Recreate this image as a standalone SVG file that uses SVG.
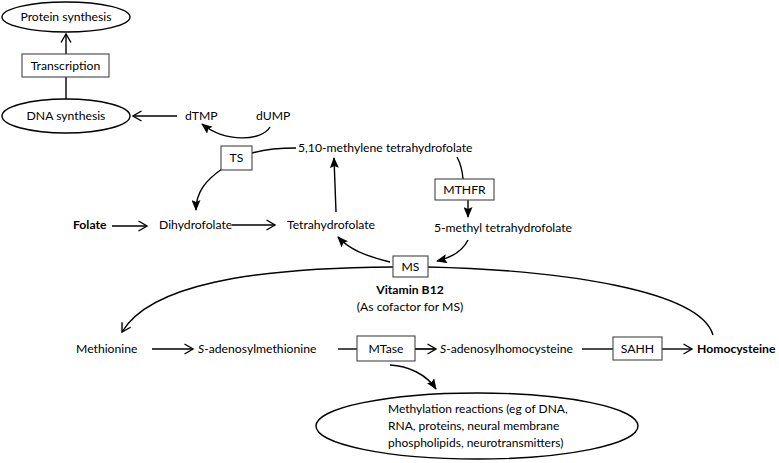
<svg xmlns="http://www.w3.org/2000/svg" width="779" height="463" viewBox="0 0 779 463">
<style>
text{font-family:Lato,"Liberation Sans",sans-serif;font-size:12.2px;fill:#000}
.b{font-weight:bold}
.m{text-anchor:middle}
.box{fill:#fff;stroke:#444;stroke-width:1.1}
.ell{fill:#fff;stroke:#000;stroke-width:1.4}
.c{fill:none;stroke:#000;stroke-width:1.4}
.o{marker-end:url(#oa)}
.f{marker-end:url(#fa)}
</style>
<defs>
<marker id="oa" viewBox="-1 -1 11 12" refX="8.5" refY="5" markerWidth="11" markerHeight="12" orient="auto" markerUnits="userSpaceOnUse">
<path d="M0,0 L8.5,5 L0,10" fill="none" stroke="#000" stroke-width="1.4"/>
</marker>
<marker id="fa" viewBox="0 0 11 9" refX="10" refY="4.5" markerWidth="11" markerHeight="9" orient="auto" markerUnits="userSpaceOnUse">
<path d="M0,0 L11,4.5 L0,9 L2,4.5 z" fill="#000"/>
</marker>
</defs>
<rect width="779" height="463" fill="#fff"/>
<g id="connectors">
<path class="c o" d="M66,54 L66,34"/>
<path class="c" d="M66,77 L66,99"/>
<path class="c o" d="M177,116 L133,116"/>
<path class="c f" d="M270,127 C262,141 226,143 202,124"/>
<path class="c" d="M252,153 Q270,148 296,148"/>
<path class="c f" d="M222,169 C206,180 196,192 196,210"/>
<path class="c o" d="M112,226 L147,226"/>
<path class="c o" d="M232,225 L275,225" style="stroke-width:1.7"/>
<path class="c f" d="M336,212 L334,158"/>
<path class="c" d="M457,157 Q462,166 463,179"/>
<path class="c f" d="M468,200 L468,217"/>
<path class="c f" d="M468,240 C462,252 450,258 437,261"/>
<path class="c f" d="M390,262 C366,256 350,250 338,237"/>
<path class="c o" d="M393,267 C250,268 150,285 122,332"/>
<path class="c" d="M428,267 C560,270 700,290 713,335"/>
<path class="c o" d="M152,349 L193,349"/>
<path class="c" d="M338,349 L357,349"/>
<path class="c o" d="M415,349 L436,349" style="stroke-width:1.7"/>
<path class="c" d="M582,349 L613,349"/>
<path class="c o" d="M662,349 L692,349"/>
<path class="c f" d="M390,365 C408,366 426,374 436,389"/>
</g>
<g id="protein-synthesis"><ellipse class="ell" cx="66" cy="17" rx="64" ry="15"/><text class="m" x="66" y="21">Protein synthesis</text></g>
<g id="transcription"><rect class="box" x="22" y="54" width="87" height="23"/><text class="m" x="65.5" y="70">Transcription</text></g>
<g id="dna-synthesis"><ellipse class="ell" cx="66" cy="116" rx="64" ry="17"/><text class="m" x="66" y="120">DNA synthesis</text></g>
<g id="dTMP"><text x="185" y="120">dTMP</text></g>
<g id="dUMP"><text x="256" y="120">dUMP</text></g>
<g id="TS"><rect class="box" x="221" y="146" width="31" height="24"/><text class="m" x="236.5" y="162">TS</text></g>
<g id="methylene-thf"><text x="298" y="152">5,10-methylene tetrahydrofolate</text></g>
<g id="folate"><text class="b" x="73" y="229">Folate</text></g>
<g id="dihydrofolate"><text x="159" y="229">Dihydrofolate</text></g>
<g id="tetrahydrofolate"><text x="287" y="229">Tetrahydrofolate</text></g>
<g id="MTHFR"><rect class="box" x="435" y="179" width="59" height="21"/><text class="m" x="464.5" y="194">MTHFR</text></g>
<g id="methyl-thf"><text x="434" y="232">5-methyl tetrahydrofolate</text></g>
<g id="MS"><rect class="box" x="393" y="256" width="35" height="21"/><text class="m" x="410.5" y="271">MS</text></g>
<g id="vitamin-b12"><text class="b m" x="410" y="294">Vitamin B12</text><text class="m" x="410" y="311">(As cofactor for MS)</text></g>
<g id="methionine"><text x="76" y="353">Methionine</text></g>
<g id="sam"><text x="198" y="353"><tspan font-style="italic">S</tspan>-adenosylmethionine</text></g>
<g id="MTase"><rect class="box" x="357" y="336" width="58" height="25"/><text class="m" x="386" y="353">MTase</text></g>
<g id="sah"><text x="440" y="353"><tspan font-style="italic">S</tspan>-adenosylhomocysteine</text></g>
<g id="SAHH"><rect class="box" x="613" y="337" width="49" height="23"/><text class="m" x="637.5" y="353">SAHH</text></g>
<g id="homocysteine"><text class="b" x="697" y="353">Homocysteine</text></g>
<g id="methylation"><ellipse class="ell" cx="477" cy="426" rx="161" ry="33"/><text x="388" y="413" style="font-size:12px">Methylation reactions (eg of DNA,</text><text x="388" y="430" style="font-size:12px">RNA, proteins, neural membrane</text><text x="388" y="447" style="font-size:12px">phospholipids, neurotransmitters)</text></g>
</svg>
